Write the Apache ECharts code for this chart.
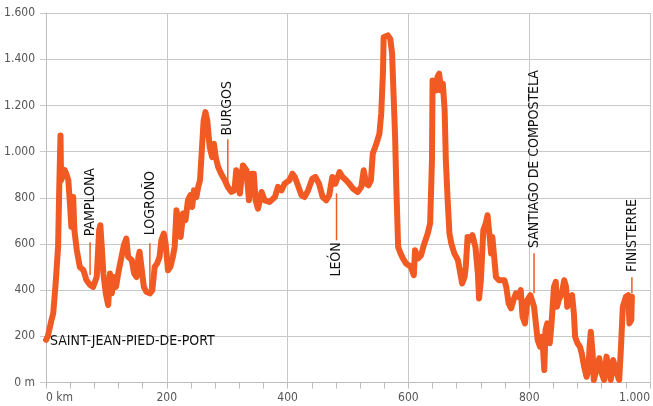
<!DOCTYPE html>
<html>
<head>
<meta charset="utf-8">
<script src="https://cdn.jsdelivr.net/npm/echarts@6/dist/echarts.min.js"></script>
<style>
html,body{margin:0;padding:0;background:#fff;}
#chart{width:653px;height:406px;}
</style>
</head>
<body>
<div id="chart"></div>
<script>
// Distance along the route (km)
const distanceKm = [0,3,9,12,16,20,22,24,25,28,31,34,37,40,42,45,47,51,56,62,67,73,78,84,88,90,92,95,99,103,106,109,112,116,120,125,129,133,136,142,146,150,153,155,158,162,166,172,176,180,184,188,191,195,198,202,206,210,213,216,220,223,227,231,235,239,242,245,249,252,255,258,261,264,267,271,275,278,281,285,290,296,301,304,307,310,312,315,317,321,326,332,336,340,344,347,351,357,362,370,379,384,390,395,403,408,412,417,423,428,434,441,446,452,458,464,469,474,479,486,491,497,502,508,516,522,526,530,534,538,541,547,552,555,558,559,566,570,573,575,578,580,583,587,591,596,604,609,611,616,621,625,632,636,639,640,646,648,651,654,657,660,662,665,668,671,676,682,684,689,693,695,698,702,706,711,715,717,720,724,728,731,734,737,739,742,745,750,759,762,766,770,774,778,782,786,789,793,797,802,805,808,811,814,818,821,823,825,827,830,834,837,841,844,846,849,854,858,861,863,866,871,874,876,880,884,887,891,895,898,900,902,905,907,911,916,920,924,928,932,935,939,942,946,949,952,955,960,964,966,969,970];
// Elevation (m)
const elevationM = [185,200,270,300,430,587,850,1070,875,900,920,900,875,760,674,803,660,573,500,486,443,422,414,457,660,681,600,472,386,335,472,386,457,414,479,544,595,623,544,530,472,457,544,566,501,414,393,386,400,501,515,544,616,645,602,486,501,544,587,746,688,630,732,703,789,811,760,832,803,847,876,1005,1135,1171,1135,1020,976,1034,976,933,904,876,847,855,825,825,832,919,904,818,940,919,789,904,904,789,753,825,789,782,803,847,832,861,876,904,890,854,811,803,832,883,890,861,803,789,811,890,861,911,890,876,861,840,825,847,919,861,854,876,991,1034,1077,1164,1351,1495,1503,1488,1424,1279,1063,847,587,559,537,515,501,465,573,537,551,590,645,690,962,1308,1265,1322,1337,1265,1294,1178,962,789,645,602,559,530,501,429,457,501,630,616,638,587,472,364,443,659,688,724,645,559,630,544,457,443,443,414,342,321,357,386,371,400,285,256,357,378,386,328,256,184,155,198,141,54,227,256,170,256,414,436,328,357,386,443,414,328,371,378,299,198,170,155,126,68,25,54,155,220,126,11,54,105,40,11,112,54,11,97,68,32,11,155,328,371,378,256,270,371];

// Axis ticks
const xTicks = [0,200,400,600,800,1000];
const yTicks = [0,200,400,600,800,1000,1200,1400,1600];

// Place annotations (km, leader top m, leader bottom m, label anchor m, label side)
const placeNames = ['PAMPLONA','LOGROÑO','BURGOS','LEÓN','SANTIAGO DE COMPOSTELA','FINISTERRE'];
const placeKm = [73,172,301,481,808,970];
const leaderTopM = [607,603,1053,819,560,456];
const leaderBottomM = [465,391,854,616,387,387];
const labelAnchorM = [633,638,1070,607,582,478];
const labelSide = ['above','above','above','below','above','above'];
const startName = 'SAINT-JEAN-PIED-DE-PORT';
const startKm = 0;
const startLabelM = 178;

const FONT = "'Liberation Sans Narrow','DejaVu Sans Condensed','Roboto Condensed',sans-serif";
const fmtThousands = v => v >= 1000 ? String(v).replace(/(\d)(\d{3})$/, '$1.$2') : String(v);

const lineData = distanceKm.map((d, i) => [d, elevationM[i]]);
const placeData = placeNames.map((n, i) => [placeKm[i], leaderTopM[i], leaderBottomM[i], labelAnchorM[i], i]);

const chart = echarts.init(document.getElementById('chart'), null, {renderer: 'canvas'});
chart.setOption({
  animation: false,
  backgroundColor: '#ffffff',
  grid: {left: 46, right: 2, top: 13, bottom: 23.5, containLabel: false},
  xAxis: {
    type: 'value', min: xTicks[0], max: xTicks[xTicks.length - 1], interval: 200,
    axisLine: {show: true, lineStyle: {color: '#bdbdbd', width: 1}},
    axisTick: {show: true, length: 6, lineStyle: {color: '#bdbdbd'}},
    minorTick: {show: true, splitNumber: 5, length: 6, lineStyle: {color: '#bdbdbd'}},
    splitLine: {show: true, lineStyle: {color: '#c8c8c8', width: 1}},
    axisLabel: {
      margin: 9, color: '#555', fontFamily: FONT, fontSize: 12,
      alignMinLabel: 'left', alignMaxLabel: 'right',
      formatter: v => v === 0 ? '0 km' : fmtThousands(v)
    }
  },
  yAxis: {
    type: 'value', min: yTicks[0], max: yTicks[yTicks.length - 1], interval: 200,
    axisLine: {show: true, lineStyle: {color: '#bdbdbd', width: 1}},
    axisTick: {show: true, length: 6, lineStyle: {color: '#c8c8c8'}},
    splitLine: {show: true, lineStyle: {color: '#c8c8c8', width: 1}},
    axisLabel: {
      margin: 11, color: '#555', fontFamily: FONT, fontSize: 12,
      formatter: v => v === 0 ? '0 m' : fmtThousands(v)
    }
  },
  series: [
    {
      type: 'line', data: lineData, showSymbol: false, smooth: false,
      lineStyle: {color: '#F15A22', width: 6, cap: 'round', join: 'round'},
      z: 3
    },
    {
      type: 'custom', data: placeData, z: 4, silent: true,
      renderItem: function (params, api) {
        const km = api.value(0);
        const top = api.coord([km, api.value(1)]);
        const bot = api.coord([km, api.value(2)]);
        const anc = api.coord([km, api.value(3)]);
        const i = api.value(4);
        const below = labelSide[i] === 'below';
        return {
          type: 'group',
          children: [
            {type: 'line', shape: {x1: top[0], y1: top[1], x2: bot[0], y2: bot[1]},
             style: {stroke: '#F15A22', lineWidth: 1.5}},
            {type: 'text', x: anc[0], y: anc[1], rotation: Math.PI / 2,
             style: {text: placeNames[i], fill: '#111', fontFamily: FONT, fontSize: 14,
                     align: below ? 'right' : 'left', verticalAlign: 'middle'}}
          ]
        };
      }
    },
    {
      type: 'custom', data: [[startKm, startLabelM]], z: 4, silent: true,
      renderItem: function (params, api) {
        const p = api.coord([api.value(0), api.value(1)]);
        return {type: 'text', x: p[0] + 4, y: p[1],
          style: {text: startName, fill: '#111', fontFamily: FONT, fontSize: 14,
                  align: 'left', verticalAlign: 'middle'}};
      }
    }
  ]
});
</script>
</body>
</html>
